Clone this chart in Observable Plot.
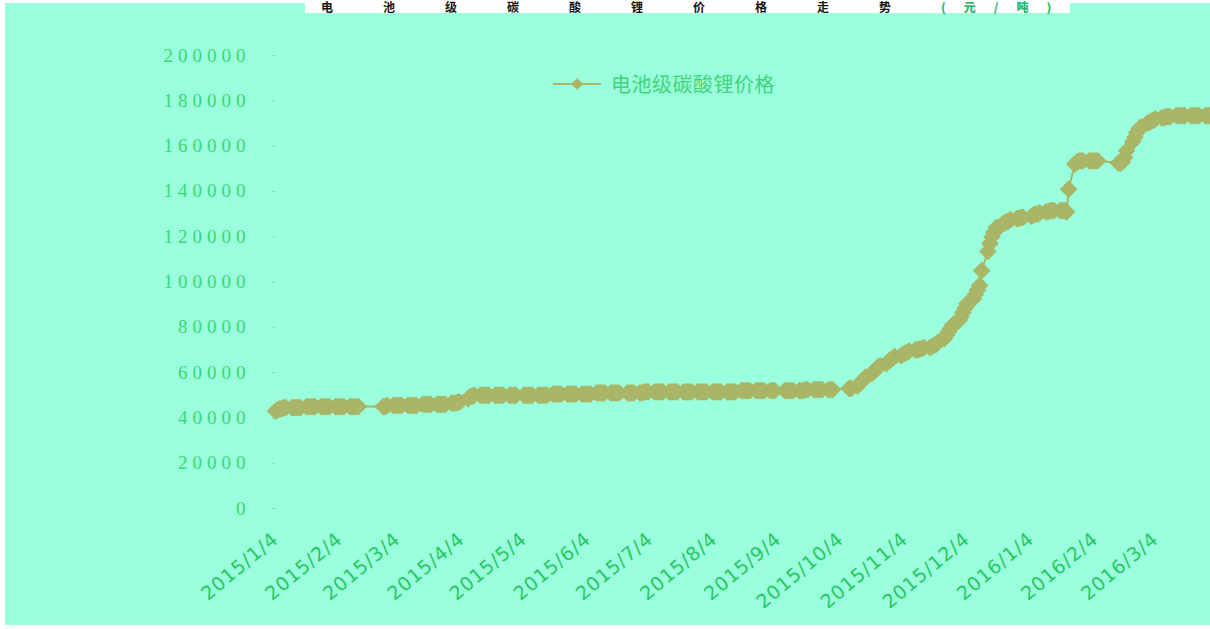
<!DOCTYPE html>
<html>
<head>
<meta charset="utf-8">
<script src="https://cdn.jsdelivr.net/npm/d3@7"></script>
<script src="https://cdn.jsdelivr.net/npm/@observablehq/plot@0.6"></script>
<style>
  html, body { margin: 0; padding: 0; background: #fff; width: 1210px; height: 629px; overflow: hidden; }
  #panel { position: absolute; left: 5px; top: 3px; width: 1205px; height: 622px; background: #9affdc; }
  #title { position: absolute; left: 305px; top: 0; width: 765px; height: 13px; background: #fff; }
  #title span { position: absolute; left: 16px; top: 0; font: bold 12px/13px "Noto Sans CJK SC";
                letter-spacing: 50px; white-space: nowrap; color: #151515; }
  #title span b { color: #2fb86a; letter-spacing: 18px; }
  #chart { position: absolute; left: 0; top: 0; }
  #legend { position: absolute; left: 553px; top: 71px; display: flex; align-items: center; gap: 10px;
            font: 20px/26px "Noto Sans CJK SC"; color: #3fd57a; letter-spacing: 0.5px; }
  #chart svg g[aria-label="y-axis tick label"] text { letter-spacing: 5px; }
  #chart svg g[aria-label="x-axis tick label"] text { letter-spacing: 1px; }
</style>
</head>
<body>
<div id="panel"></div>
<div id="title"><span>电池级碳酸锂价格走势<b>(元/吨)</b></span></div>
<div id="chart"></div>
<div id="legend"></div>
<script>
// Battery-grade lithium carbonate price, yuan per tonne, one value per trading day.
const seriesName = "电池级碳酸锂价格";
const startDay = "2015-01-04";
const endDay = "2016-03-30";
// Weekend make-up working days and market holidays.
const extraWorkdays = ["2015-01-04"];
const holidays = [
  "2015-02-16", "2015-02-17", "2015-02-18", "2015-02-19", "2015-02-20", "2015-02-23", "2015-02-24",
  "2015-04-06", "2015-05-01", "2015-06-22", "2015-09-03", "2015-09-04",
  "2015-10-01", "2015-10-02", "2015-10-05", "2015-10-06", "2015-10-07",
  "2016-01-01", "2016-02-08", "2016-02-09", "2016-02-10", "2016-02-11", "2016-02-12"
];

const price2015_01 = [43000, 43500, 44000, 44000, 44500, 44500, 44500, 44500, 44500, 44500, 44500,
  45000, 45000, 45000, 45000, 45000, 45000, 45000, 45000, 45000, 45000];
const price2015_02 = [45000, 45000, 45000, 45000, 45000, 45000, 45000, 45000, 45000, 45000,
  45000, 45000, 45500];
const price2015_03 = [45500, 45500, 45500, 45500, 45500, 45500, 45500, 45500, 45500, 45500,
  46000, 46000, 46000, 46000, 46000, 46000, 46000, 46000, 46000, 46000, 46500, 46500];
const price2015_04 = [46500, 47000, 47000, 48500, 49500, 49500, 50000,
  50000, 50000, 50000, 50000, 50000, 50000, 50000, 50000, 50000, 50000, 50000, 50000, 50000, 50000];
const price2015_05 = [50000, 50000, 50000, 50000, 50000, 50000, 50000, 50000, 50000, 50000,
  50500, 50500, 50500, 50500, 50500, 50500, 50500, 50500, 50500, 50500];
const price2015_06 = [50500, 50500, 50500, 50500, 50500, 51000, 51000, 51000, 51000, 51000,
  51000, 51000, 51000, 51000, 51000, 51000, 51000, 51000, 51000, 51000, 51000];
const price2015_07 = [51500, 51500, 51500, 51500, 51500, 51500, 51500, 51500, 51500, 51500, 51500, 51500,
  51500, 51500, 51500, 51500, 51500, 51500, 51500, 51500, 51500, 51500, 51500];
const price2015_08 = [51500, 51500, 51500, 51500, 51500, 51500, 51500, 51500, 51500, 51500,
  52000, 52000, 52000, 52000, 52000, 52000, 52000, 52000, 52000, 52000, 52000];
const price2015_09 = [52000, 52000, 52000, 52000, 52000, 52000, 52000, 52000, 52000, 52000,
  52500, 52500, 52500, 52500, 52500, 52500, 52500, 52500, 52500, 52500];
const price2015_10 = [53000, 53000, 54000, 55000, 56000, 57000, 58000, 59500, 60500, 61500, 62500, 63000,
  64000, 65000, 65500, 66500, 67000];
const price2015_11 = [67500, 68000, 68500, 69000, 69500, 70000, 70000, 70500, 70500, 71000,
  71000, 71500, 72000, 72500, 73500, 75000, 76500, 78000, 79500, 81000, 83000];
const price2015_12 = [84500, 86500, 88500, 90500, 92500, 94500, 96500, 98500, 105000,
  113500, 117000, 120000, 122000, 124000, 125500, 126000, 126500, 127000, 127500,
  128000, 128000, 128500, 128500];
const price2016_01 = [129000, 129500, 130000, 130000, 130500, 131000, 131000, 131500, 131500, 131500,
  131500, 131500, 131500, 131000, 141000, 152000, 153000, 153500, 153500, 153500];
const price2016_02 = [153500, 153500, 153500, 153500, 153500, 152500, 152500, 153000, 155000, 158000,
  162000, 164000, 166000, 167500, 168500, 170000];
const price2016_03 = [170500, 171000, 171500, 172000, 172500, 172500, 173000, 173000, 173000,
  173500, 173500, 173500, 173500, 173500, 173500, 173500, 173500, 173500, 173500, 173500, 173500, 173500];

const months = [
  [2015, 1, price2015_01], [2015, 2, price2015_02], [2015, 3, price2015_03], [2015, 4, price2015_04],
  [2015, 5, price2015_05], [2015, 6, price2015_06], [2015, 7, price2015_07], [2015, 8, price2015_08],
  [2015, 9, price2015_09], [2015, 10, price2015_10], [2015, 11, price2015_11], [2015, 12, price2015_12],
  [2016, 1, price2016_01], [2016, 2, price2016_02], [2016, 3, price2016_03]
];

const xTicks = ["2015-01-04", "2015-02-04", "2015-03-04", "2015-04-04", "2015-05-04", "2015-06-04",
  "2015-07-04", "2015-08-04", "2015-09-04", "2015-10-04", "2015-11-04", "2015-12-04",
  "2016-01-04", "2016-02-04", "2016-03-04"].map(s => new Date(s));
const yTicks = [0, 20000, 40000, 60000, 80000, 100000, 120000, 140000, 160000, 180000, 200000];

// Trading days of one calendar month (weekdays minus holidays, plus make-up days).
const holidaySet = new Set(holidays);
const workdaySet = new Set(extraWorkdays);
function tradingDays(year, month) {
  const out = [];
  for (let d = new Date(Date.UTC(year, month - 1, 1)); d.getUTCMonth() === month - 1; d = new Date(+d + 864e5)) {
    const iso = d.toISOString().slice(0, 10);
    if (iso < startDay || iso > endDay) continue;
    const wd = d.getUTCDay();
    if ((wd >= 1 && wd <= 5 && !holidaySet.has(iso)) || workdaySet.has(iso)) out.push(d);
  }
  return out;
}

const data = months.flatMap(([y, m, values]) => {
  const days = tradingDays(y, m);
  return values.map((v, i) => ({date: days[Math.min(i, days.length - 1)], price: v}));
});

const fmtDate = d => `${d.getUTCFullYear()}/${d.getUTCMonth() + 1}/${d.getUTCDate()}`;
const markColor = "#a9b567";

const chart = Plot.plot({
  width: 1210,
  height: 629,
  marginTop: 55,
  marginBottom: 121,
  marginLeft: 275,
  marginRight: 0,
  style: {background: "transparent", overflow: "hidden"},
  x: {type: "utc", domain: [new Date(startDay), new Date("2016-03-31")], range: [275, 1211]},
  y: {domain: [0, 200000], range: [508, 55]},
  marks: [
    Plot.axisY({ticks: yTicks, tickFormat: d3.format("d"), tickSize: 3, tickPadding: 22,
      stroke: "#6fe0b0", fill: "#3ad873", fontSize: 19, fontFamily: "Liberation Serif", label: null}),
    Plot.axisX({ticks: xTicks, tickFormat: fmtDate, tickSize: 0, tickPadding: 28, tickRotate: -40,
      fill: "#26c862", fontSize: 19, fontFamily: "DejaVu Sans", label: null}),
    Plot.line(data, {x: "date", y: "price", stroke: markColor, strokeWidth: 2}),
    Plot.dot(data, {x: "date", y: "price", symbol: "diamond2", r: 8, fill: markColor, stroke: "none"})
  ]
});
document.getElementById("chart").append(chart);

// Legend: line-with-marker swatch and series name.
const legend = document.getElementById("legend");
legend.innerHTML = `<svg width="48" height="16"><line x1="0" y1="8" x2="48" y2="8" stroke="${markColor}" stroke-width="2"/>` +
  `<path d="M24,2L30,8L24,14L18,8Z" fill="${markColor}"/></svg><span>${seriesName}</span>`;
</script>
</body>
</html>
